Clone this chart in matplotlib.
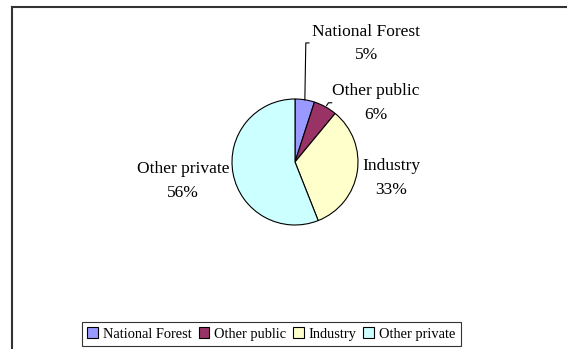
import matplotlib
matplotlib.use('Agg')
import matplotlib.pyplot as plt
from matplotlib.lines import Line2D
import numpy as np

# data
owners = ['National Forest', 'Other public', 'Industry', 'Other private']
shares = [5, 6, 33, 56]
colors = ['#9999FF', '#993366', '#FFFFCC', '#CCFFFF']

# label centres (data units of the pie axes, radius = 1)
label_xy = [(1.13, 1.88), (1.28, 0.94), (1.53, -0.25), (-1.78, -0.30)]

plt.rcParams['font.family'] = ['Liberation Serif', 'DejaVu Serif']

W, H = 567, 349
fig = plt.figure(figsize=(W / 100, H / 100), dpi=100)
fig.patch.set_facecolor('white')

# chart frame (only top and left edges are visible in the crop)
fig.add_artist(Line2D([12 / W, 1.0], [1 - 7 / H, 1 - 7 / H],
                      transform=fig.transFigure, color='#333333', lw=1.5))
fig.add_artist(Line2D([12 / W, 12 / W], [1 - 7 / H, 0.0],
                      transform=fig.transFigure, color='#333333', lw=1.5))

# pie axes: centre (295,162) px, radius 63 px
cx, cy, r = 295, 162, 63
ax = fig.add_axes([(cx - r) / W, (H - cy - r) / H, 2 * r / W, 2 * r / H])
wedges, _ = ax.pie(shares, colors=colors, startangle=90, counterclock=False,
                   radius=1.0, wedgeprops=dict(edgecolor='black', linewidth=0.8))
ax.set_xlim(-1, 1)
ax.set_ylim(-1, 1)
ax.set_aspect('equal')
ax.axis('off')

total = float(sum(shares))
for i, (w, name, v) in enumerate(zip(wedges, owners, shares)):
    lx, ly = label_xy[i]
    ax.text(lx, ly, f'{name}\n{v / total * 100:.0f}%', ha='center', va='center',
            multialignment='center', fontsize=12.5, linespacing=1.65, clip_on=False)

# leader lines for the two small slices
for i in range(2):
    w = wedges[i]
    mid = np.deg2rad((w.theta1 + w.theta2) / 2)
    ex, ey = np.cos(mid), np.sin(mid)
    if i == 0:
        xs = [ex, ex + 0.015, ex + 0.065]
        ys = [ey, 1.89, 1.89]
    else:
        xs = [ex + 0.02, ex + 0.05, ex + 0.1]
        ys = [ey + 0.02, 0.94, 0.94]
    ax.plot(xs, ys, color='black', lw=0.8, clip_on=False)

leg = fig.legend(wedges, owners, loc='center', ncol=4,
                 bbox_to_anchor=(271.5 / W, 1 - 334 / H),
                 fontsize=10.4, frameon=True, fancybox=False,
                 handlelength=0.75, handleheight=0.75, handletextpad=0.35,
                 columnspacing=0.45, borderpad=0.35, borderaxespad=0)
leg.get_frame().set_edgecolor('black')
leg.get_frame().set_linewidth(0.8)

fig.savefig('out.png', dpi=100)
